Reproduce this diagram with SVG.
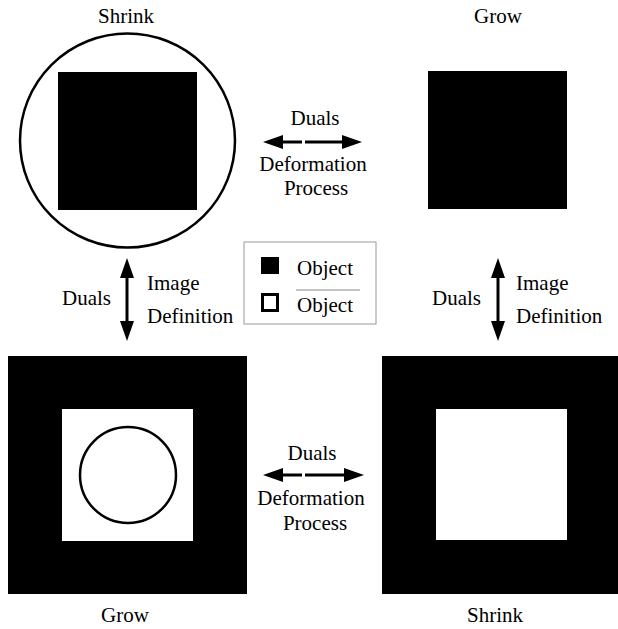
<svg xmlns="http://www.w3.org/2000/svg" width="618" height="629" viewBox="0 0 618 629">
<style>
text{font-family:"Liberation Serif","Times New Roman",serif;font-size:21px;fill:#000}
.c{text-anchor:middle}
.sh{stroke:#000;stroke-width:3;fill:none}
.blk{fill:#000}
</style>
<defs>
<marker id="ah" viewBox="0 0 20 14" refX="10" refY="7" markerWidth="20" markerHeight="14" markerUnits="userSpaceOnUse" orient="auto-start-reverse">
<path d="M0,0 L20,7 L0,14 Z" fill="#000"/>
</marker>
</defs>
<rect width="618" height="629" fill="#fff"/>
<g id="shrink-top">
<ellipse cx="127.5" cy="140.5" rx="107.5" ry="107" fill="none" stroke="#000" stroke-width="2.5"/>
<rect class="blk" x="58" y="72" width="139" height="138"/>
<text class="c" x="126" y="23">Shrink</text>
</g>
<g id="grow-top">
<rect class="blk" x="428" y="71" width="139" height="138"/>
<text class="c" x="498" y="23">Grow</text>
</g>
<g id="grow-bottom">
<rect class="blk" x="8" y="356" width="239" height="238"/>
<rect x="62" y="409" width="131" height="132" fill="#fff"/>
<ellipse cx="128" cy="475" rx="48" ry="48" fill="none" stroke="#000" stroke-width="2.5"/>
<text class="c" x="125" y="622">Grow</text>
</g>
<g id="shrink-bottom">
<rect class="blk" x="382" y="356" width="236" height="238"/>
<rect x="436" y="409" width="131" height="131" fill="#fff"/>
<text class="c" x="495" y="622">Shrink</text>
</g>
<g id="legend">
<rect x="244" y="242" width="132" height="82" fill="none" stroke="#999" stroke-width="1"/>
<rect class="blk" x="261" y="257" width="18" height="17"/>
<text x="297" y="275">Object</text>
<rect x="262.5" y="294.5" width="15" height="16" fill="#fff" stroke="#000" stroke-width="3"/>
<line x1="296" y1="290" x2="360" y2="290" stroke="#888" stroke-width="1"/>
<text x="297" y="312">Object</text>
</g>
<g id="connectors">
<line class="sh" x1="302" y1="142" x2="273" y2="142" marker-end="url(#ah)"/>
<line class="sh" x1="305" y1="142" x2="352" y2="142" marker-end="url(#ah)"/>
<line class="sh" x1="302" y1="475" x2="273" y2="475" marker-end="url(#ah)"/>
<line class="sh" x1="305" y1="475" x2="354" y2="475" marker-end="url(#ah)"/>
<line class="sh" x1="127" y1="268" x2="127" y2="331" marker-start="url(#ah)" marker-end="url(#ah)"/>
<line class="sh" x1="498" y1="268" x2="498" y2="331" marker-start="url(#ah)" marker-end="url(#ah)"/>
</g>
<g id="labels">
<text class="c" x="315" y="125">Duals</text>
<text class="c" x="313" y="171">Deformation</text>
<text class="c" x="316" y="195">Process</text>
<text class="c" x="312" y="460">Duals</text>
<text class="c" x="311" y="505">Deformation</text>
<text class="c" x="315" y="530">Process</text>
<text x="147" y="290">Image</text>
<text x="147" y="323">Definition</text>
<text x="62" y="305">Duals</text>
<text x="516" y="290">Image</text>
<text x="516" y="323">Definition</text>
<text x="432" y="305">Duals</text>
</g>
</svg>
